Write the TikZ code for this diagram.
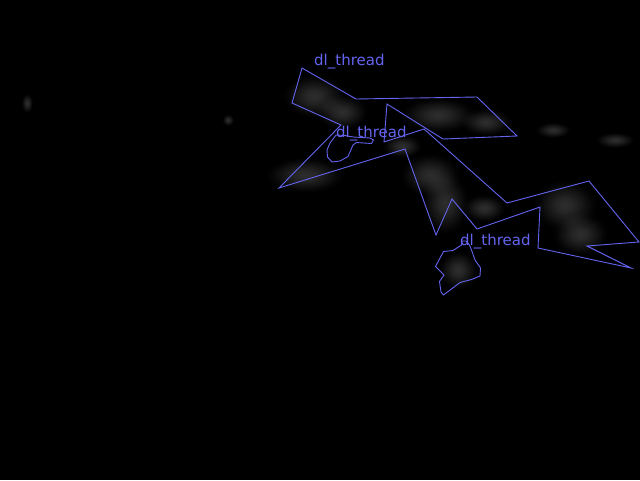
\documentclass[tikz,border=0pt]{standalone}
\usepackage{fontspec}
\setsansfont{DejaVu Sans}
\definecolor{cvblue}{RGB}{100,100,240}
\definecolor{hazec}{RGB}{46,46,46}
\pgfdeclareradialshading{blobshade}{\pgfpoint{0bp}{0bp}}{color(0bp)=(hazec); color(7bp)=(hazec!80!black); color(15bp)=(hazec!40!black); color(21bp)=(hazec!10!black); color(25bp)=(black); color(50bp)=(black)}
\begin{document}
\begin{tikzpicture}[x=1pt,y=-1pt,
  outline/.style={draw=cvblue, line width=0.9pt, line join=miter},
  lbl/.style={text=cvblue, font=\sffamily\fontsize{15}{15}\selectfont, anchor=base west, inner sep=0pt},
  haze/.style={shading=blobshade, blend mode=screen}]
\fill[black] (0,0) rectangle (640,480);
\useasboundingbox (0,0) rectangle (640,480);
% hazy grey regions
\begin{scope}[transparency group]
\shade[haze] (314,96) ellipse [x radius=32, y radius=22];
\shade[haze] (342,112) ellipse [x radius=26, y radius=18];
\shade[haze] (438,115) ellipse [x radius=38, y radius=18];
\shade[haze] (486,122) ellipse [x radius=26, y radius=14];
\shade[haze] (402,146) ellipse [x radius=20, y radius=12];
\shade[haze] (305,175) ellipse [x radius=40, y radius=18];
\shade[haze] (430,175) ellipse [x radius=30, y radius=22];
\shade[haze] (445,203) ellipse [x radius=24, y radius=32];
\shade[haze] (484,208) ellipse [x radius=22, y radius=14];
\shade[haze] (565,205) ellipse [x radius=32, y radius=26];
\shade[haze] (580,234) ellipse [x radius=28, y radius=22];
\shade[haze] (458,270) ellipse [x radius=20, y radius=20];
\shade[haze] (553,130) ellipse [x radius=18, y radius=8];
\shade[haze] (615,140) ellipse [x radius=20, y radius=8];
\shade[haze] (27,103) ellipse [x radius=6, y radius=10];
\shade[haze] (228,120) ellipse [x radius=6, y radius=6];
\end{scope}
% detected contours
\draw[outline] (302,68) -- (356,99) -- (477,97) -- (517,136) -- (443,139) -- (387,104)
  -- (384,142) -- (424,129) -- (507,203) -- (589,181) -- (639,242) -- (587,246)
  -- (631,268) -- (538,248) -- (540,207) -- (477,229) -- (452,199) -- (436,235)
  -- (405,149) -- (279,188) -- (341,125) -- (292,103) -- cycle;
\draw[outline] (336,135) -- (330,143) -- (327,150) -- (327.5,157) -- (332,162) -- (340,161)
  -- (348,156.5) -- (353,145) -- (356.5,142.5) -- (371.5,143.5) -- (373.5,140)
  -- (370,138) -- (353,137) -- (345,135.5) -- cycle;
\draw[outline] (461.5,245) -- (453,250.5) -- (443.5,251.5) -- (435.5,266.5) -- (444,275)
  -- (439.5,281.5) -- (441,292) -- (443.5,295) -- (460,282.5) -- (471.5,279.5)
  -- (480,276) -- (480.5,268) -- (475,260) -- (471.5,250) -- (469.5,245)
  -- (466,241) -- (462,241) -- cycle;
% labels
\node[lbl] (l1) at (314,65) {dl\_thread};
\node[lbl] (l2) at (336,137) {dl\_thread};
\node[lbl] (l3) at (460,245) {dl\_thread};
\end{tikzpicture}
\end{document}
